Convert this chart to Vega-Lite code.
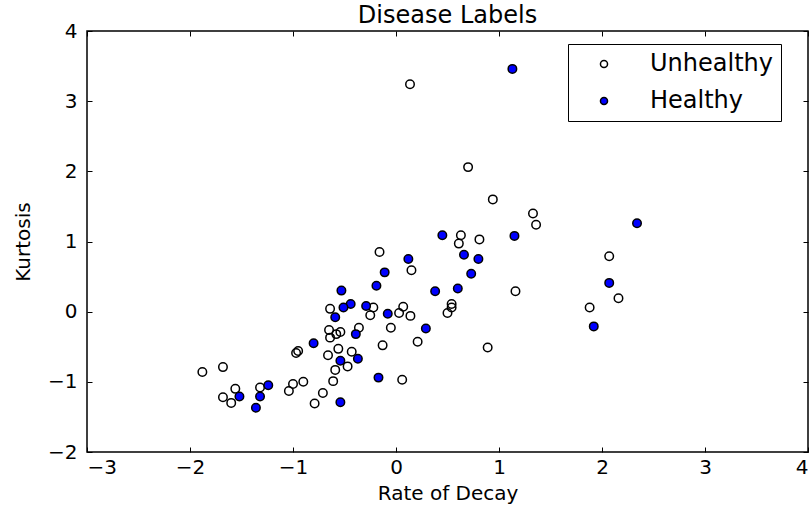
{
  "$schema": "https://vega.github.io/schema/vega-lite/v6.json",
  "width": 721,
  "height": 421,
  "autosize": {"type": "none"},
  "padding": {"left": 87, "top": 31, "right": 4, "bottom": 60},
  "background": "white",
  "title": {"text": "Disease Labels", "fontSize": 24, "font": "DejaVu Sans", "fontWeight": "normal", "color": "black", "offset": -7, "anchor": "middle"},
  "config": {
    "view": {"stroke": "black", "strokeWidth": 1.5},
    "font": "DejaVu Sans",
    "axis": {"grid": false, "domain": false, "tickColor": "black", "tickWidth": 1, "tickSize": -5, "labelColor": "black", "labelFont": "DejaVu Sans", "labelFontSize": 20, "titleFont": "DejaVu Sans", "titleFontSize": 20, "titleFontWeight": "normal", "titleColor": "black"}
  },
  "data": {"values": [
    {"x": 0.136, "y": 3.24, "label": "Unhealthy"},
    {"x": 0.70, "y": 2.06, "label": "Unhealthy"},
    {"x": 0.94, "y": 1.60, "label": "Unhealthy"},
    {"x": 1.33, "y": 1.40, "label": "Unhealthy"},
    {"x": 1.36, "y": 1.24, "label": "Unhealthy"},
    {"x": 2.07, "y": 0.79, "label": "Unhealthy"},
    {"x": 2.16, "y": 0.19, "label": "Unhealthy"},
    {"x": 1.88, "y": 0.06, "label": "Unhealthy"},
    {"x": 1.16, "y": 0.29, "label": "Unhealthy"},
    {"x": 0.89, "y": -0.51, "label": "Unhealthy"},
    {"x": 0.63, "y": 1.09, "label": "Unhealthy"},
    {"x": 0.61, "y": 0.97, "label": "Unhealthy"},
    {"x": 0.81, "y": 1.03, "label": "Unhealthy"},
    {"x": 0.54, "y": 0.11, "label": "Unhealthy"},
    {"x": 0.54, "y": 0.06, "label": "Unhealthy"},
    {"x": 0.50, "y": -0.02, "label": "Unhealthy"},
    {"x": -0.16, "y": 0.85, "label": "Unhealthy"},
    {"x": 0.15, "y": 0.59, "label": "Unhealthy"},
    {"x": 0.07, "y": 0.07, "label": "Unhealthy"},
    {"x": 0.03, "y": -0.02, "label": "Unhealthy"},
    {"x": 0.14, "y": -0.06, "label": "Unhealthy"},
    {"x": -0.05, "y": -0.23, "label": "Unhealthy"},
    {"x": 0.21, "y": -0.43, "label": "Unhealthy"},
    {"x": -0.13, "y": -0.48, "label": "Unhealthy"},
    {"x": 0.06, "y": -0.97, "label": "Unhealthy"},
    {"x": -0.22, "y": 0.06, "label": "Unhealthy"},
    {"x": -0.25, "y": -0.05, "label": "Unhealthy"},
    {"x": -0.36, "y": -0.23, "label": "Unhealthy"},
    {"x": -0.64, "y": 0.04, "label": "Unhealthy"},
    {"x": -0.65, "y": -0.26, "label": "Unhealthy"},
    {"x": -0.54, "y": -0.29, "label": "Unhealthy"},
    {"x": -0.64, "y": -0.37, "label": "Unhealthy"},
    {"x": -0.58, "y": -0.32, "label": "Unhealthy"},
    {"x": -0.56, "y": -0.53, "label": "Unhealthy"},
    {"x": -0.43, "y": -0.57, "label": "Unhealthy"},
    {"x": -0.66, "y": -0.62, "label": "Unhealthy"},
    {"x": -0.47, "y": -0.78, "label": "Unhealthy"},
    {"x": -0.59, "y": -0.83, "label": "Unhealthy"},
    {"x": -0.61, "y": -0.99, "label": "Unhealthy"},
    {"x": -0.97, "y": -0.59, "label": "Unhealthy"},
    {"x": -0.95, "y": -0.56, "label": "Unhealthy"},
    {"x": -1.00, "y": -1.03, "label": "Unhealthy"},
    {"x": -0.90, "y": -1.00, "label": "Unhealthy"},
    {"x": -1.04, "y": -1.13, "label": "Unhealthy"},
    {"x": -0.71, "y": -1.16, "label": "Unhealthy"},
    {"x": -0.79, "y": -1.31, "label": "Unhealthy"},
    {"x": -1.88, "y": -0.86, "label": "Unhealthy"},
    {"x": -1.68, "y": -0.79, "label": "Unhealthy"},
    {"x": -1.56, "y": -1.10, "label": "Unhealthy"},
    {"x": -1.68, "y": -1.22, "label": "Unhealthy"},
    {"x": -1.60, "y": -1.30, "label": "Unhealthy"},
    {"x": -1.32, "y": -1.08, "label": "Unhealthy"},
    {"x": 1.13, "y": 3.46, "label": "Healthy"},
    {"x": 2.34, "y": 1.26, "label": "Healthy"},
    {"x": 2.07, "y": 0.41, "label": "Healthy"},
    {"x": 1.92, "y": -0.21, "label": "Healthy"},
    {"x": 1.15, "y": 1.08, "label": "Healthy"},
    {"x": 0.45, "y": 1.09, "label": "Healthy"},
    {"x": 0.66, "y": 0.81, "label": "Healthy"},
    {"x": 0.80, "y": 0.75, "label": "Healthy"},
    {"x": 0.73, "y": 0.54, "label": "Healthy"},
    {"x": 0.38, "y": 0.29, "label": "Healthy"},
    {"x": 0.60, "y": 0.33, "label": "Healthy"},
    {"x": 0.29, "y": -0.24, "label": "Healthy"},
    {"x": 0.12, "y": 0.75, "label": "Healthy"},
    {"x": -0.11, "y": 0.56, "label": "Healthy"},
    {"x": -0.19, "y": 0.37, "label": "Healthy"},
    {"x": -0.08, "y": -0.03, "label": "Healthy"},
    {"x": -0.17, "y": -0.94, "label": "Healthy"},
    {"x": -0.29, "y": 0.08, "label": "Healthy"},
    {"x": -0.44, "y": 0.11, "label": "Healthy"},
    {"x": -0.51, "y": 0.06, "label": "Healthy"},
    {"x": -0.53, "y": 0.30, "label": "Healthy"},
    {"x": -0.59, "y": -0.08, "label": "Healthy"},
    {"x": -0.39, "y": -0.32, "label": "Healthy"},
    {"x": -0.80, "y": -0.45, "label": "Healthy"},
    {"x": -0.54, "y": -0.70, "label": "Healthy"},
    {"x": -0.37, "y": -0.67, "label": "Healthy"},
    {"x": -0.54, "y": -1.29, "label": "Healthy"},
    {"x": -1.24, "y": -1.05, "label": "Healthy"},
    {"x": -1.32, "y": -1.21, "label": "Healthy"},
    {"x": -1.36, "y": -1.37, "label": "Healthy"},
    {"x": -1.52, "y": -1.21, "label": "Healthy"}
  ]},
  "layer": [
    {
      "mark": {"type": "point", "shape": "circle", "filled": true, "size": 72, "stroke": "black", "strokeWidth": 1.5, "opacity": 1},
      "encoding": {
        "x": {"field": "x", "type": "quantitative", "scale": {"domain": [-3, 4], "nice": false, "zero": false}, "axis": {"orient": "bottom", "values": [-3, -2, -1, 0, 1, 2, 3, 4], "labelPadding": 10, "title": "Rate of Decay", "titlePadding": 6}},
        "y": {"field": "y", "type": "quantitative", "scale": {"domain": [-2, 4], "nice": false, "zero": false}, "axis": {"orient": "left", "values": [-2, -1, 0, 1, 2, 3, 4], "labelPadding": 15, "title": "Kurtosis", "titlePadding": 14}},
        "fill": {"field": "label", "type": "nominal", "scale": {"domain": ["Unhealthy", "Healthy"], "range": ["transparent", "#0000ff"]},
          "legend": {"title": null, "orient": "none", "legendX": 481, "legendY": 13, "padding": 8, "strokeColor": "black", "fillColor": "white", "symbolType": "circle", "symbolSize": 50, "symbolStrokeColor": "black", "symbolStrokeWidth": 1.5, "symbolOffset": 16, "labelOffset": 34, "labelFontSize": 24, "labelFont": "DejaVu Sans", "labelColor": "black", "rowPadding": 13, "cornerRadius": 0}}
      }
    },
    {
      "mark": {"type": "point", "opacity": 0},
      "encoding": {
        "x": {"field": "x", "type": "quantitative", "axis": {"orient": "top", "values": [-3, -2, -1, 0, 1, 2, 3, 4], "labels": false, "title": null}},
        "y": {"field": "y", "type": "quantitative", "axis": {"orient": "right", "values": [-2, -1, 0, 1, 2, 3, 4], "labels": false, "title": null}}
      }
    }
  ],
  "resolve": {"axis": {"x": "independent", "y": "independent"}}
}
